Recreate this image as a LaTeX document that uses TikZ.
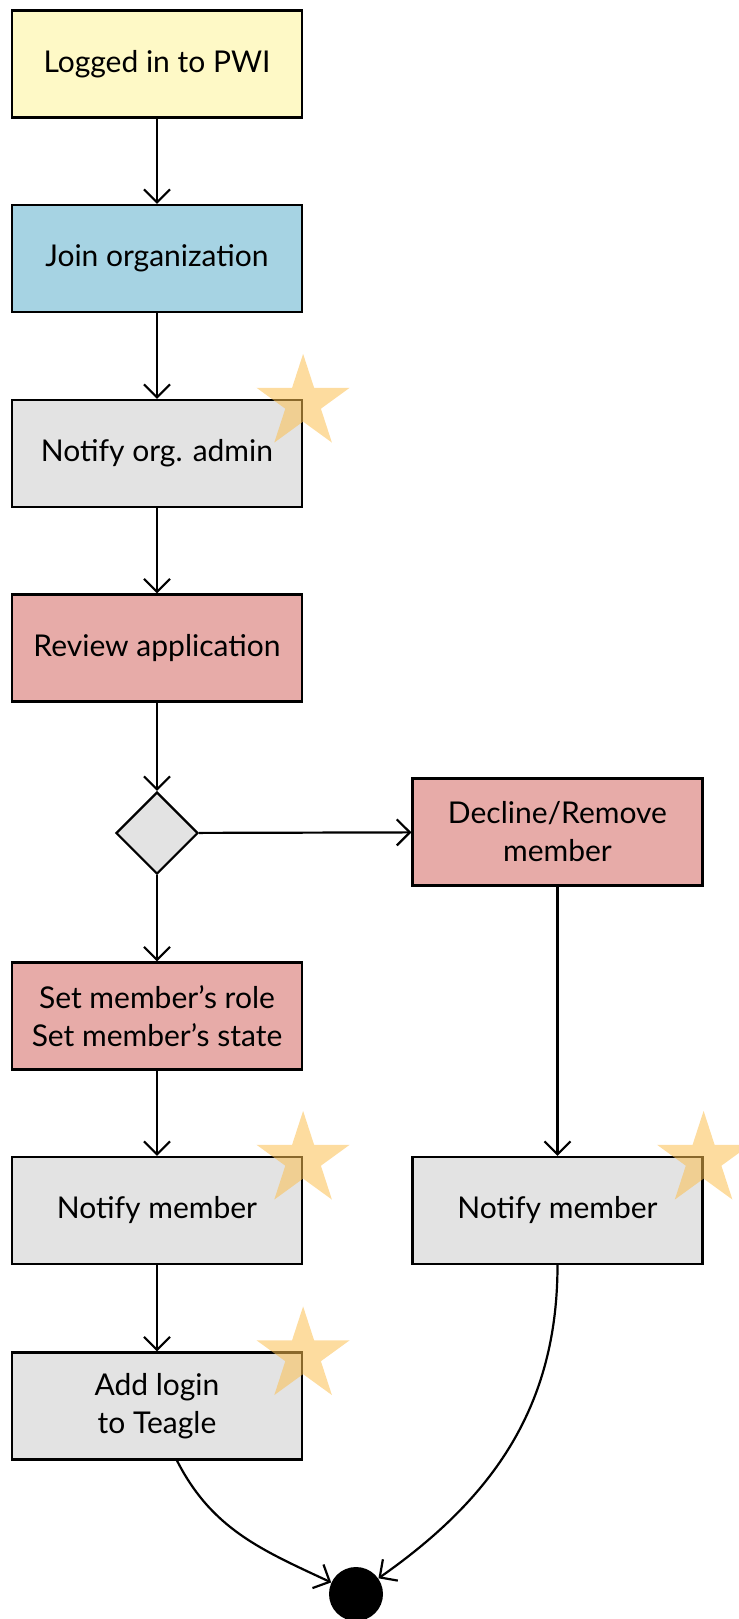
\documentclass[tikz,border=0pt]{standalone}
\usepackage{fontspec}
\setmainfont{Lato}
\usetikzlibrary{shapes.geometric,arrows.meta}
\definecolor{StartYellow}{HTML}{FEF9C6}
\definecolor{JoinBlue}{HTML}{A6D3E3}
\definecolor{StepGray}{HTML}{E3E3E3}
\definecolor{AdminRed}{HTML}{E7ABA8}
\definecolor{StarOrange}{HTML}{FBBF50}

\begin{document}
\begin{tikzpicture}[x=0.5pt,y=0.5pt,
		box/.style={draw=black,line width=1.1pt,rectangle,minimum width=145pt,minimum height=53.5pt,
			inner sep=2pt,align=center,font=\fontsize{15}{19}\selectfont},
		decision/.style={draw=black,line width=1.1pt,diamond,fill=StepGray,minimum width=41pt,
			minimum height=41pt,inner sep=0pt},
		endpoint/.style={circle,fill=black,minimum size=27pt,inner sep=0pt},
		flag/.style={star,star points=5,star point ratio=2.618,minimum size=49pt,inner sep=0pt,
			fill=StarOrange,fill opacity=0.55},
		arr/.style={line width=1.1pt,-{Straight Barb[length=6.5pt,width=13pt]}}]
		\useasboundingbox (0,0) rectangle (739,-1619);% Page size
		% Left column
		\node[box,fill=StartYellow] (LoggedIn)    at (157,-64)   {Logged in to PWI};
		\node[box,fill=JoinBlue]    (JoinOrg)     at (157,-258.5) {Join organization};
		\node[box,fill=StepGray]    (NotifyAdmin) at (157,-453.5) {Notify org. admin};
		\node[box,fill=AdminRed]    (Review)      at (157,-648)  {Review application};
		\node[decision]             (Decision)    at (157,-833)  {};
		\node[box,fill=AdminRed]    (SetRole)     at (157,-1016) {Set member's role\\Set member's state};
		\node[box,fill=StepGray]    (NotifyLeft)  at (157,-1210.5) {Notify member};
		\node[box,fill=StepGray]    (AddLogin)    at (157,-1406) {Add login\\to Teagle};
		% Right column
		\node[box,fill=AdminRed]    (Decline)     at (557.5,-832) {Decline/Remove\\member};
		\node[box,fill=StepGray]    (NotifyRight) at (557.5,-1210.5) {Notify member};
		\node[endpoint]             (End)         at (356,-1594) {};
		% Stars on the notification steps
		\foreach \n in {NotifyAdmin,NotifyLeft,NotifyRight,AddLogin}{%
			\node[flag] (Star\n) at ([yshift=-2pt]\n.north east) {};
		}
		% Connectors
		\draw[arr] (LoggedIn) -- (JoinOrg);
		\draw[arr] (JoinOrg) -- (NotifyAdmin);
		\draw[arr] (NotifyAdmin) -- (Review);
		\draw[arr] (Review) -- (Decision);
		\draw[arr] (Decision) -- (SetRole);
		\draw[arr] (Decision) -- (Decline);
		\draw[arr] (SetRole) -- (NotifyLeft);
		\draw[arr] (NotifyLeft) -- (AddLogin);
		\draw[arr] (Decline) -- (NotifyRight);
		\draw[arr] ([xshift=10pt]AddLogin.south) to[out=-63,in=155] (End);
		\draw[arr] (NotifyRight.south) to[out=-90,in=35] (End);
\end{tikzpicture}
\end{document}
